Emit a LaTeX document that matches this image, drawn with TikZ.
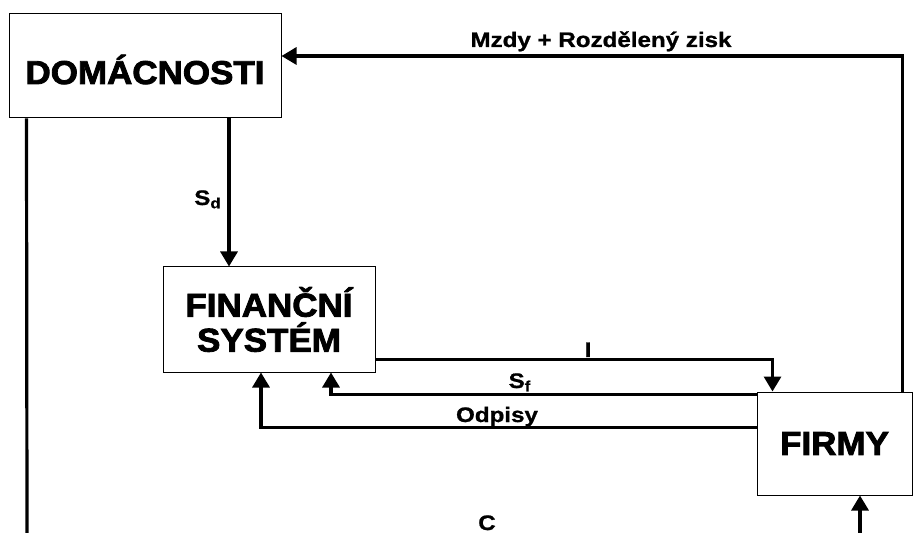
\documentclass[tikz,border=0pt]{standalone}
\usepackage{fontspec}
\usepackage{tikz}
\usetikzlibrary{arrows.meta, calc}
\setmainfont{Liberation Sans}
\newfontfamily\titlefont[BoldFeatures={FakeBold=2.5, FakeStretch=1.06}]{Liberation Sans}
\newfontfamily\labelfont[BoldFeatures={FakeBold=1, FakeStretch=1.15}]{Liberation Sans}

\begin{document}
\begin{tikzpicture}[
  x=0.5pt, y=-0.5pt,
  sector/.style={rectangle, draw, line width=0.5pt, inner sep=0pt,
                 align=center, font=\titlefont\fontsize{16.5}{17.5}\selectfont\bfseries},
  lbl/.style={inner sep=0pt, anchor=base, font=\labelfont\fontsize{10.5}{12}\selectfont\bfseries},
  flow/.style={-{Triangle[length=7.5pt, width=8.5pt]}, line width=1.6pt},
  line/.style={line width=1.6pt},
]
\useasboundingbox (0,0) rectangle (913,533);

% sectors
\node[sector, minimum width=136pt, minimum height=52pt,
      text height=18pt, text depth=0pt] (dom) at (145,66)
  {DOMÁCNOSTI};
\node[sector, minimum width=106pt, minimum height=52.5pt] (fin) at (269,319.5)
  {FINANČNÍ\\SYSTÉM};
\node[sector, minimum width=77.5pt, minimum height=51.5pt] (firmy) at (834.5,443.5)
  {FIRMY};

% open ends at the bottom
\coordinate (cEnd) at (27,533);
\coordinate (cStart) at (860,533);

% flows
\draw[flow] ([xshift=-5pt]firmy.north east) |- ([yshift=5pt]dom.east);
\draw[line] ([xshift=9pt]dom.south west) -- (cEnd);
\draw[flow] ([xshift=42pt]dom.south) -- ([xshift=42pt]dom.south |- fin.north);
\draw[flow] ([yshift=-20pt]fin.east) -| ([xshift=8pt]firmy.north west);
\draw[flow] ([yshift=-1.5pt]firmy.north west) -| ([xshift=31pt]fin.south);
\draw[flow] ([yshift=-18pt]firmy.north west) -| ([xshift=-4pt]fin.south);
\draw[flow] (cStart) -- (cStart |- firmy.south);

% labels
\node[lbl] (mzdy) at (601,47) {Mzdy + Rozdělený zisk};
\node[lbl] (sd) at (208,205) {S\textsubscript{d}};
\node[lbl] (inv) at (588,357) {I};
\node[lbl] (sf) at (520,388) {S\textsubscript{f}};
\node[lbl] (odp) at (497,422) {Odpisy};
\node[lbl] (spotr) at (487,530) {C};

\end{tikzpicture}
\end{document}
